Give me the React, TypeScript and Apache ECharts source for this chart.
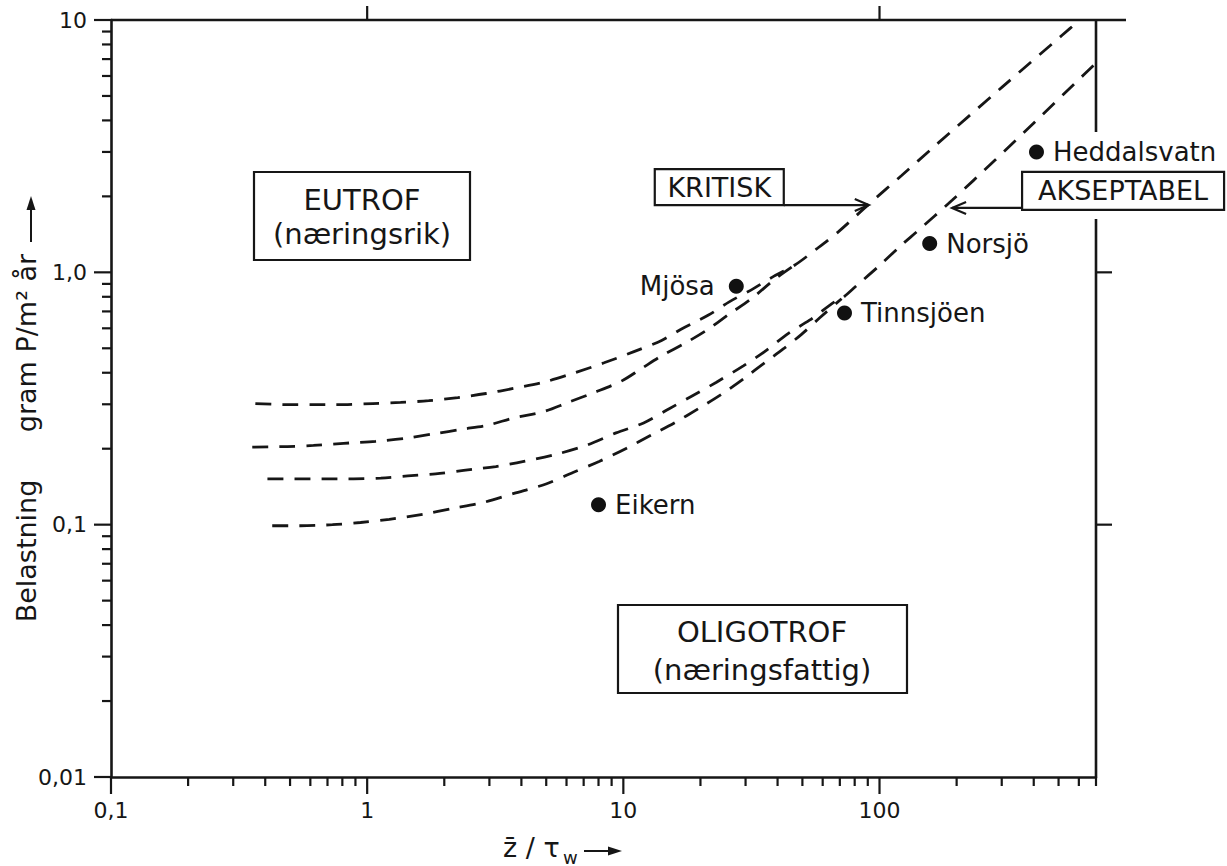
import React, { useEffect, useRef } from "react";
import * as echarts from "echarts";

// ---- axis ticks ----
const xTickValues = [0.1, 1, 10, 100];
const xTickLabels = ["0,1", "1", "10", "100"];
const yTickValues = [0.01, 0.1, 1, 10];
const yTickLabels = ["0,01", "0,1", "1,0", "10"];
const xMinorTicks = [
  0.2, 0.3, 0.4, 0.5, 0.6, 0.7, 0.8, 0.9,
  2, 3, 4, 5, 6, 7, 8, 9,
  20, 30, 40, 50, 60, 70, 80, 90,
  200, 300, 400, 500, 600, 700,
];
const yMinorTicks = [
  0.02, 0.03, 0.04, 0.05, 0.06, 0.07, 0.08, 0.09,
  0.2, 0.3, 0.4, 0.5, 0.6, 0.7, 0.8, 0.9,
  2, 3, 4, 5, 6, 7, 8, 9,
];
const topTicks = [1, 100];
const rightTicks = [1, 0.1];

// ---- curves (x = z/tau_w, y = g P / m2 year) ----
const kritiskUpper = [
  [0.366, 0.302], [0.493, 0.299], [0.617, 0.299], [0.809, 0.299], [1.05, 0.302],
  [1.35, 0.305], [1.74, 0.31], [2.26, 0.319], [2.91, 0.331], [3.74, 0.347],
  [4.9, 0.367], [6.42, 0.399], [8.41, 0.438], [11.0, 0.485], [14.1, 0.537],
  [16.8, 0.595], [21.5, 0.677], [25.9, 0.764], [32.2, 0.862], [38.6, 0.964],
  [46.6, 1.067], [56.8, 1.238], [69.2, 1.45], [90.7, 1.86], [122, 2.42],
  [164, 3.16], [301, 5.42], [516, 8.7], [605, 10],
];
const kritiskLower = [
  [0.356, 0.203], [0.488, 0.204], [0.617, 0.206], [0.809, 0.21], [1.08, 0.214],
  [1.41, 0.22], [1.82, 0.229], [2.36, 0.239], [2.96, 0.248], [3.74, 0.265],
  [4.86, 0.28], [6.08, 0.305], [7.69, 0.334], [9.8, 0.37], [11.7, 0.414],
  [14.1, 0.467], [17.3, 0.522], [21.1, 0.589], [25.9, 0.683], [31.6, 0.786],
  [38.9, 0.937], [46.6, 1.067],
];
const akseptabelUpper = [
  [0.408, 0.152], [0.534, 0.152], [0.675, 0.152], [0.885, 0.152], [1.13, 0.153],
  [1.44, 0.156], [1.85, 0.159], [2.38, 0.164], [3.18, 0.17], [4.09, 0.178],
  [5.46, 0.19], [7.15, 0.206], [9.37, 0.231], [12.0, 0.253], [15.1, 0.288],
  [18.4, 0.322], [23.1, 0.367], [29.4, 0.426], [35.6, 0.485], [44.1, 0.573],
  [53.3, 0.646], [66.8, 0.764], [71.1, 0.786], [81.4, 0.886], [99.3, 1.057],
  [122, 1.285], [140, 1.45], [192, 1.93], [282, 2.78], [405, 3.95],
  [580, 5.62], [695, 6.71],
];
const akseptabelLower = [
  [0.426, 0.099], [0.549, 0.099], [0.732, 0.1], [0.942, 0.102], [1.22, 0.105],
  [1.65, 0.11], [2.16, 0.116], [2.8, 0.122], [3.74, 0.133], [4.99, 0.145],
  [6.36, 0.161], [8.04, 0.178], [10.3, 0.201], [12.8, 0.226], [15.8, 0.253],
  [19.6, 0.288], [24.1, 0.328], [29.7, 0.381], [35.6, 0.438], [42.2, 0.498],
  [49.6, 0.568], [58.3, 0.659], [71.1, 0.786],
];

// ---- lakes ----
const lakeNames = ["Mjösa", "Tinnsjöen", "Norsjö", "Heddalsvatn", "Eikern"];
const lakeX = [27.6, 73, 157, 410, 8.0];
const lakeY = [0.88, 0.69, 1.3, 3.0, 0.12];
const lakeLabelSide = ["left", "right", "right", "right", "right"];

// arrow targets on the curves
const kritiskArrowTip = [90.8, 1.83];
const akseptabelArrowTip = [192, 1.8];

const FONT = '"DejaVu Sans", "Liberation Sans", sans-serif';
const INK = "#161616";

function labelFor(values: number[], labels: string[], v: number) {
  const i = values.findIndex((t) => Math.abs(Math.log10(t) - Math.log10(v)) < 1e-6);
  return i >= 0 ? labels[i] : "";
}

export default function App() {
  const ref = useRef<HTMLDivElement>(null);

  useEffect(() => {
    document.body.style.margin = "0";
    const chart = echarts.init(ref.current!, null, { renderer: "svg" });

    const dashed = (name: string, data: number[][]) => ({
      type: "line",
      name,
      data,
      symbol: "none",
      showSymbol: false,
      smooth: 0.3,
      silent: true,
      lineStyle: { color: INK, width: 2.8, type: [16, 11] },
      z: 3,
    });

    // tick series drawn through the axes' own scales (api.coord)
    const xTickSeries = (vals: number[], len: number, side: "bottom" | "top") => ({
      type: "custom",
      name: `xticks-${side}-${len}`,
      silent: true,
      clip: false,
      z: 6,
      data: vals.map((v) => [v, 1]),
      renderItem: (params: any, api: any) => {
        const x = api.coord([api.value(0), 1])[0];
        const cs = params.coordSys;
        const y0 = side === "bottom" ? cs.y + cs.height : cs.y;
        const y1 = side === "bottom" ? y0 + len : y0 - len;
        return {
          type: "line",
          shape: { x1: x, y1: y0, x2: x, y2: y1 },
          style: { stroke: INK, lineWidth: 2.2 },
        };
      },
    });
    const yTickSeries = (vals: number[], len: number, side: "left" | "right") => ({
      type: "custom",
      name: `yticks-${side}-${len}`,
      silent: true,
      clip: false,
      z: 6,
      data: vals.map((v) => [1, v]),
      renderItem: (params: any, api: any) => {
        const y = api.coord([1, api.value(1)])[1];
        const cs = params.coordSys;
        const x0 = side === "left" ? cs.x : cs.x + cs.width;
        const x1 = side === "left" ? x0 - len : x0 + len;
        return {
          type: "line",
          shape: { x1: x0, y1: y, x2: x1, y2: y },
          style: { stroke: INK, lineWidth: 2.2 },
        };
      },
    });

    chart.setOption({
      animation: false,
      backgroundColor: "#ffffff",
      grid: { left: 111, right: 131, top: 20, bottom: 89 },
      xAxis: {
        type: "log",
        logBase: 10,
        min: 0.1,
        max: 700,
        axisLine: { show: true, lineStyle: { color: INK, width: 2.6 } },
        axisTick: { show: false },
        minorTick: { show: false },
        splitLine: { show: false },
        axisLabel: {
          fontSize: 22,
          color: INK,
          fontFamily: FONT,
          margin: 22,
          formatter: (v: number) => labelFor(xTickValues, xTickLabels, v),
        },
      },
      yAxis: {
        type: "log",
        logBase: 10,
        min: 0.01,
        max: 10,
        axisLine: { show: true, lineStyle: { color: INK, width: 2.6 } },
        axisTick: { show: false },
        minorTick: { show: false },
        splitLine: { show: false },
        axisLabel: {
          fontSize: 22,
          color: INK,
          fontFamily: FONT,
          margin: 24,
          formatter: (v: number) => labelFor(yTickValues, yTickLabels, v),
        },
      },
      series: [
        dashed("Kritisk (øvre)", kritiskUpper),
        dashed("Kritisk (nedre)", kritiskLower),
        dashed("Akseptabel (øvre)", akseptabelUpper),
        dashed("Akseptabel (nedre)", akseptabelLower),
        {
          type: "scatter",
          name: "Innsjøer",
          data: lakeNames.map((n, i) => ({
            name: n,
            value: [lakeX[i], lakeY[i]],
            label: {
              position: lakeLabelSide[i],
              distance: lakeLabelSide[i] === "left" ? 14 : 9,
            },
          })),
          symbol: "circle",
          symbolSize: 15,
          itemStyle: { color: "#111111", opacity: 1 },
          z: 5,
          label: {
            show: true,
            formatter: "{b}",
            fontSize: 26,
            color: INK,
            opacity: 1,
            fontFamily: FONT,
          },
        },
        xTickSeries(xTickValues, 17, "bottom"),
        xTickSeries(xMinorTicks, 9, "bottom"),
        xTickSeries(topTicks, 14, "top"),
        yTickSeries(yTickValues, 17, "left"),
        yTickSeries(yMinorTicks, 9, "left"),
        yTickSeries(rightTicks, 16, "right"),
      ],
    });

    const P = (x: number, y: number) =>
      chart.convertToPixel({ gridIndex: 0 }, [x, y]) as number[];
    const L = P(0.1, 1)[0];
    const R = P(700, 1)[0];
    const T = P(1, 10)[1];
    const B = P(1, 0.01)[1];

    const g: any[] = [];
    const seg = (x1: number, y1: number, x2: number, y2: number, w = 2.6) =>
      g.push({
        type: "line",
        shape: { x1, y1, x2, y2 },
        style: { stroke: INK, lineWidth: w },
        silent: true,
      });
    const txt = (text: string, x: number, y: number, size: number, extra: any = {}) =>
      g.push({
        type: "text",
        x,
        y,
        silent: true,
        ...extra,
        style: {
          text,
          fill: INK,
          font: `${size}px ${FONT}`,
          align: "center",
          verticalAlign: "middle",
          ...(extra.style || {}),
        },
      });
    const box = (x: number, y: number, w: number, h: number) =>
      g.push({
        type: "rect",
        shape: { x, y, width: w, height: h },
        style: { fill: "none", stroke: INK, lineWidth: 2.2 },
        silent: true,
      });

    // frame: top line (extends past the right border) and broken right border
    seg(L, T, R + 30, T);
    seg(R, T, R, 132);
    seg(R, 219, R, B);

    // EUTROF box
    box(254, 172, 216, 88);
    txt("EUTROF", 362, 200, 29);
    txt("(næringsrik)", 362, 234, 29);

    // OLIGOTROF box
    box(618, 605, 289, 88);
    txt("OLIGOTROF", 762, 632, 29);
    txt("(næringsfattig)", 762, 670, 29);

    // KRITISK box + arrow
    const [kx, ky] = P(kritiskArrowTip[0], kritiskArrowTip[1]);
    box(kx - 214, ky - 37, 129, 36);
    txt("KRITISK", kx - 149.5, ky - 19, 27);
    seg(kx - 85, ky - 1, kx, ky - 1, 2.2);
    g.push({
      type: "polyline",
      shape: { points: [[kx - 14, ky - 7], [kx, ky - 1], [kx - 14, ky + 5]] },
      style: { stroke: INK, lineWidth: 2.2, fill: "none" },
      silent: true,
    });

    // AKSEPTABEL box + arrow
    const [ax, ay] = P(akseptabelArrowTip[0], akseptabelArrowTip[1]);
    box(ax + 70, ay - 36, 202, 38);
    txt("AKSEPTABEL", ax + 171, ay - 17, 27);
    seg(ax, ay, ax + 70, ay, 2.2);
    g.push({
      type: "polyline",
      shape: { points: [[ax + 14, ay - 6], [ax, ay], [ax + 14, ay + 6]] },
      style: { stroke: INK, lineWidth: 2.2, fill: "none" },
      silent: true,
    });

    // y-axis title (rotated)
    txt("Belastning", 26, 551, 27, { rotation: Math.PI / 2 });
    txt("gram P/m² år", 26, 343, 27, { rotation: Math.PI / 2 });
    seg(31, 242, 31, 206, 2);
    g.push({
      type: "polygon",
      shape: { points: [[31, 196], [26.5, 210], [35.5, 210]] },
      style: { fill: INK },
      silent: true,
    });

    // x-axis title
    txt("z̄ / τ", 503, 847, 27, { style: { align: "left" } });
    txt("w", 563, 857, 18, { style: { align: "left" } });
    seg(584, 851, 610, 851, 2);
    g.push({
      type: "polygon",
      shape: { points: [[622, 851], [608, 846.5], [608, 855.5]] },
      style: { fill: INK },
      silent: true,
    });

    chart.setOption({ graphic: g });

    return () => chart.dispose();
  }, []);

  return <div ref={ref} style={{ width: 1227, height: 866 }} />;
}
